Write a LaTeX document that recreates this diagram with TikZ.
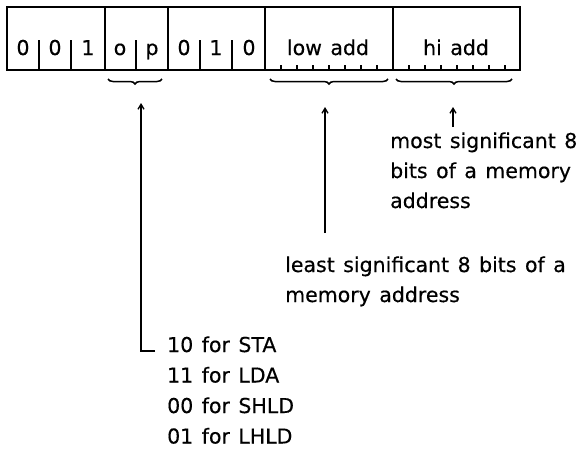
\documentclass[tikz,border=0pt]{standalone}
\usepackage{fontspec}
\setmainfont{DejaVu Sans}[WordSpace=1.3,FakeBold=0.4]
\usetikzlibrary{decorations.pathreplacing,arrows.meta}
\begin{document}
\begin{tikzpicture}[x=1pt,y=-1pt,
  txt/.style={font=\fontsize{20.5}{24}\selectfont, inner sep=0pt, anchor=base west},
  bit/.style={font=\fontsize{20.5}{24}\selectfont, inner sep=0pt, anchor=base},
  frame/.style={line width=1.9pt},
  thin/.style={line width=1.5pt},
  brc/.style={decorate, decoration={brace, mirror, amplitude=5pt}, line width=1.5pt},
  arr/.style={line width=1.3pt, -{Straight Barb[length=5pt,width=6pt]}}]
\useasboundingbox (0,0) rectangle (580,453);
% register frame
\draw[frame] (7,7) rectangle (520,70);
\foreach \x in {105,168,265,393} \draw[frame] (\x,7) -- (\x,70);
\foreach \x in {39,71,136,200,232} \draw[thin] (\x,40) -- (\x,70);
\foreach \k in {1,...,7} {
  \draw[thin] ({265+16*\k},65) -- ({265+16*\k},70);
  \draw[thin] ({393+16*\k},65) -- ({393+16*\k},70);
}
% bit labels
\foreach \x/\t/\n in {23/0/b1,55/0/b2,88/1/b3,120/o/b4,152/p/b5,184/0/b6,216/1/b7,249/0/b8}
  \node[bit] (\n) at (\x,55) {\t};
\node[bit] (low) at (328,55) {low add};
\node[bit] (hi) at (456,55) {hi add};
% braces
\draw[brc] (108,79) -- (162,79);
\draw[brc] (270,79) -- (388,79);
\draw[brc] (396,79) -- (512,79);
% arrow targets
\coordinate (oparr) at (141,103);
\coordinate (lowarr) at (325,107);
\coordinate (hiarr) at (453,107);
\coordinate (lowfoot) at (325,233);
\coordinate (hifoot) at (453,127);
% texts
\node[txt] (msb1) at (390,148) {most significant 8};
\node[txt] (msb2) at (390,178) {bits of a memory};
\node[txt] (msb3) at (390,208) {address};
\node[txt] (lsb1) at (285,272) {least significant 8 bits of a};
\node[txt] (lsb2) at (285,302) {memory address};
\node[txt] (sta) at (167,352) {10 for STA};
\node[txt] (lda) at (167,382.5) {11 for LDA};
\node[txt] (shld) at (167,413) {00 for SHLD};
\node[txt] (lhld) at (167,443.5) {01 for LHLD};
% arrows
\coordinate (stacorner) at ([xshift=-12pt,yshift=1pt]sta.base west);
\draw[arr] (stacorner) -| (oparr);
\draw[arr] (lowfoot) -- (lowarr);
\draw[arr] (hifoot) -- (hiarr);
\end{tikzpicture}
\end{document}
